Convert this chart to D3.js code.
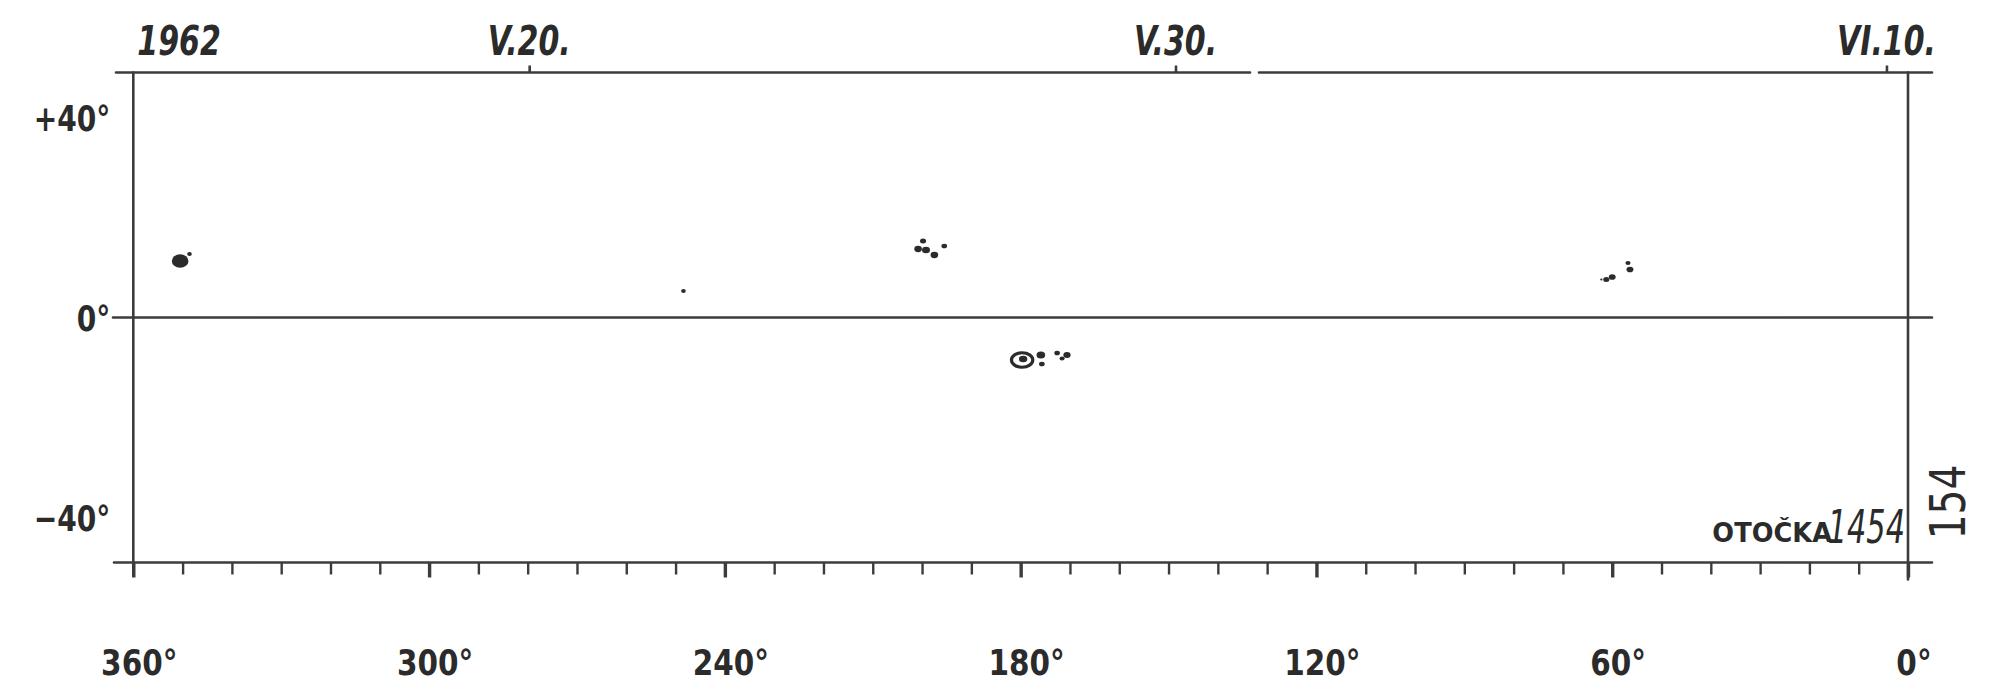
<!DOCTYPE html>
<html><head><meta charset="utf-8">
<script src="https://cdn.jsdelivr.net/npm/d3@7"></script>
<style>html,body{margin:0;padding:0;background:#fff;} svg{display:block;}</style>
</head><body>
<svg id="chart" width="2000" height="695"></svg>
<script>
// ---------- data ----------
const lonTicks = d3.range(0, 361, 10);
const lonLabels = [360, 300, 240, 180, 120, 60, 0];
const latLabels = [40, 0, -40];
const rotationStart = "1962-05-13T21:00:00Z";
const rotationEnd = "1962-06-10T08:00:00Z";
const dateTicks = ["1962-05-20", "1962-05-30", "1962-06-10"];
const dateLabels = ["V.20.", "V.30.", "VI.10."];
const yearLabel = "1962";
const rotationWord = "OTOČKA";
const rotationNumber = "1454";
const sheetNumber = "154";

// sunspots: Carrington longitude, heliographic latitude, relative area, kind (u = umbra, p = penumbral spot)
const spotLon  = [350.5, 348.6, 248.4, 200.8, 199.8, 199.2, 197.5, 195.5, 179.7, 175.9, 175.7, 172.6, 170.6, 171.6, 61.2, 60.0, 56.8, 56.4, 62.2];
const spotLat  = [11.3, 12.7, 5.3, 13.7, 15.3, 13.5, 12.5, 14.3, -8.5, -7.5, -9.3, -7.1, -7.5, -8.2, 7.6, 8.1, 10.9, 9.6, 7.6];
const spotArea = [52, 4, 4, 11, 7, 12, 11, 6, 78, 14, 6, 6, 10, 5, 7, 9, 5, 9, 1];
const spotKind = ["u", "u", "u", "u", "u", "u", "u", "u", "p", "u", "u", "u", "u", "u", "u", "u", "u", "u", "u"];

// ---------- layout ----------
const ink = "#2b2b2b";
const lineInk = "#3c3c3c";
const L = 133.3, R = 1908, T = 72.5, B = 562.5;
const svg = d3.select("#chart");
svg.append("rect").attr("width", 2000).attr("height", 695).attr("fill", "#fff");

const x = d3.scaleLinear().domain([360, 0]).range([L, R]);
const y = d3.scaleLinear().domain([-49, 49]).range([B, T]);
const xDate = d3.scaleUtc().domain([new Date(rotationStart), new Date(rotationEnd)]).range([L, R]);
const rScale = d3.scaleSqrt().domain([0, 100]).range([0, 10.5]);

const frame = svg.append("g").attr("stroke", lineInk).attr("stroke-width", 2.6).attr("fill", "none").attr("stroke-linecap", "round");
// top line (with the small break of the original drawing)
frame.append("line").attr("x1", 116).attr("x2", 1250).attr("y1", T).attr("y2", T);
frame.append("line").attr("x1", 1259).attr("x2", 1932).attr("y1", T).attr("y2", T);
// bottom line
frame.append("line").attr("x1", 114).attr("x2", 1932).attr("y1", B).attr("y2", B);
// equator
frame.append("line").attr("x1", 113).attr("x2", 1932).attr("y1", y(0)).attr("y2", y(0));
// side lines
frame.append("line").attr("x1", L).attr("x2", L).attr("y1", T).attr("y2", B + 13);
frame.append("line").attr("x1", R).attr("x2", R).attr("y1", T).attr("y2", B + 17);

// ---------- bottom longitude axis ----------
const bottomAxis = d3.axisBottom(x).tickValues(lonTicks).tickSize(12).tickFormat("");
const gb = svg.append("g").attr("transform", `translate(0,${B})`).call(bottomAxis);
gb.select(".domain").remove();
gb.selectAll(".tick line")
  .attr("stroke", lineInk)
  .attr("stroke-width", d => d % 60 === 0 ? 3.4 : 2.4)
  .attr("y2", d => d % 60 === 0 ? 15 : 12);

svg.append("g").selectAll("text").data(lonLabels).join("text")
  .attr("transform", d => `translate(${x(d) + 6},${B + 112}) scale(0.82,1)`)
  .attr("text-anchor", "middle")
  .attr("font-family", "DejaVu Sans, sans-serif")
  .attr("font-weight", "bold")
  .attr("font-size", 36)
  .attr("fill", ink)
  .text(d => d + "°");

// ---------- top date axis ----------
const topAxis = d3.axisTop(xDate).tickValues(dateTicks.map(d => new Date(d + "T00:00:00Z"))).tickSize(7).tickFormat("");
const gt = svg.append("g").attr("transform", `translate(0,${T})`).call(topAxis);
gt.select(".domain").remove();
gt.selectAll(".tick line").attr("stroke", lineInk).attr("stroke-width", 2.6);

svg.append("g").selectAll("text").data(dateTicks).join("text")
  .attr("transform", (d, i) => `translate(${xDate(new Date(d + "T00:00:00Z"))},${T - 18}) scale(0.75,1)`)
  .attr("text-anchor", "middle")
  .attr("font-family", "DejaVu Sans, sans-serif")
  .attr("font-weight", "bold")
  .attr("font-style", "italic")
  .attr("font-size", 40)
  .attr("fill", ink)
  .text((d, i) => dateLabels[i]);

svg.append("text")
  .attr("transform", `translate(${L + 4},${T - 18}) scale(0.75,1)`)
  .attr("font-family", "DejaVu Sans, sans-serif")
  .attr("font-weight", "bold")
  .attr("font-style", "italic")
  .attr("font-size", 40)
  .attr("fill", ink)
  .text(yearLabel);

// ---------- left latitude labels ----------
svg.append("g").selectAll("text").data(latLabels).join("text")
  .attr("transform", d => `translate(${L - 23},${y(d) + 13}) scale(0.78,1)`)
  .attr("text-anchor", "end")
  .attr("font-family", "DejaVu Sans, sans-serif")
  .attr("font-weight", "bold")
  .attr("font-size", 36)
  .attr("fill", ink)
  .text(d => (d > 0 ? "+" : d < 0 ? "−" : "") + Math.abs(d) + "°");

// ---------- rotation label & sheet number ----------
svg.append("text")
  .attr("transform", `translate(1832,${B - 21}) scale(0.95,1)`)
  .attr("text-anchor", "end")
  .attr("font-family", "DejaVu Sans, sans-serif")
  .attr("font-weight", "bold")
  .attr("font-size", 27)
  .attr("fill", ink)
  .text(rotationWord);
svg.append("text")
  .attr("transform", `translate(1905,${B - 20}) scale(0.66,1)`)
  .attr("text-anchor", "end")
  .attr("font-family", "DejaVu Sans, sans-serif")
  .attr("font-style", "italic")
  .attr("font-size", 46)
  .attr("fill", ink)
  .text(rotationNumber);
svg.append("text")
  .attr("transform", `translate(1965,502) rotate(-90) scale(0.78,1)`)
  .attr("text-anchor", "middle")
  .attr("font-family", "DejaVu Sans, sans-serif")
  .attr("font-size", 50)
  .attr("fill", ink)
  .text(sheetNumber);

// ---------- sunspots ----------
const spots = spotLon.map((lon, i) => ({lon, lat: spotLat[i], area: spotArea[i], kind: spotKind[i]}));
const gs = svg.append("g");
gs.selectAll("ellipse.u").data(spots.filter(s => s.kind === "u")).join("ellipse")
  .attr("class", "u")
  .attr("cx", d => x(d.lon)).attr("cy", d => y(d.lat))
  .attr("rx", d => rScale(d.area) * 1.1).attr("ry", d => rScale(d.area) * 0.9)
  .attr("fill", ink);
const pen = spots.filter(s => s.kind === "p");
gs.selectAll("ellipse.p").data(pen).join("ellipse")
  .attr("class", "p")
  .attr("cx", d => x(d.lon)).attr("cy", d => y(d.lat))
  .attr("rx", d => rScale(d.area) * 1.15).attr("ry", d => rScale(d.area) * 0.78)
  .attr("fill", "#fff").attr("stroke", ink).attr("stroke-width", 3.2);
gs.selectAll("ellipse.pu").data(pen).join("ellipse")
  .attr("class", "pu")
  .attr("cx", d => x(d.lon) + 1).attr("cy", d => y(d.lat) - 1)
  .attr("rx", d => rScale(d.area) * 0.45).attr("ry", d => rScale(d.area) * 0.35)
  .attr("fill", ink);
</script>
</body></html>
